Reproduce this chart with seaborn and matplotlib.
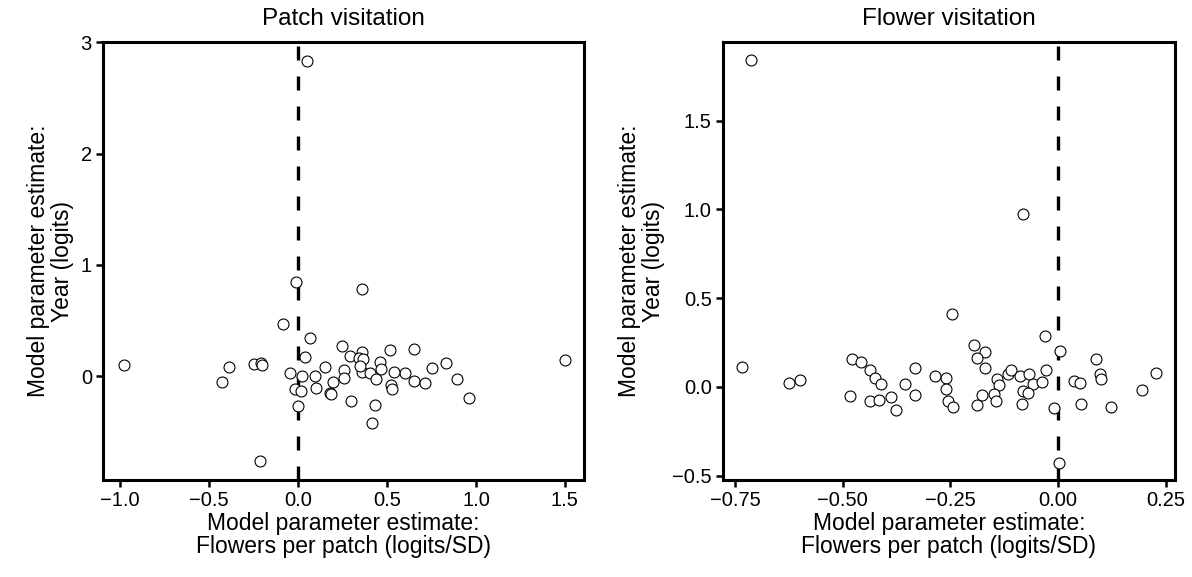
import matplotlib
matplotlib.use("Agg")
import matplotlib.pyplot as plt
import seaborn as sns
import pandas as pd

# Patch visitation: flowers-per-patch estimate vs year estimate
patch_x = [-0.978, -0.388, -0.427, -0.247, -0.210, -0.204, -0.082, 0.067, 0.042, -0.045,
           0.022, -0.015, 0.019, -0.002, -0.211, 0.098, 0.154, 0.103, 0.178, 0.197,
           0.051, -0.009, 0.362, 0.247, 0.290, 0.360, 0.343, 0.365, 0.459, 0.517,
           0.650, 0.834, 0.751, 0.600, 0.539, 0.465, 0.360, 0.257, 0.257, 0.188,
           0.403, 0.437, 0.525, 0.530, 0.650, 0.712, 0.892, 0.963, 0.300, 0.431,
           0.414, 1.498, 0.347]
patch_y = [0.104, 0.086, -0.048, 0.110, 0.119, 0.104, 0.468, 0.343, 0.170, 0.032,
           0.005, -0.116, -0.134, -0.263, -0.756, 0.000, 0.086, -0.105, -0.152, -0.048,
           2.834, 0.851, 0.782, 0.269, 0.185, 0.221, 0.161, 0.155, 0.131, 0.238,
           0.242, 0.122, 0.072, 0.030, 0.038, 0.065, 0.041, 0.059, -0.018, -0.158,
           0.030, -0.024, -0.078, -0.114, -0.039, -0.060, -0.027, -0.194, -0.224, -0.257,
           -0.418, 0.149, 0.090]

# Flower visitation
flower_x = [-0.733, -0.624, -0.599, -0.478, -0.458, -0.436, -0.425, -0.411, -0.482, -0.437,
            -0.416, -0.388, -0.376, -0.356, -0.333, -0.333, -0.286, -0.261, -0.259, -0.255,
            -0.247, -0.244, -0.189, -0.177, -0.196, -0.169, -0.189, -0.169, -0.142, -0.137,
            -0.149, -0.143, -0.116, -0.108, -0.089, -0.067, -0.059, -0.081, -0.070, -0.083,
            -0.037, -0.029, -0.031, 0.004, -0.009, 0.002, 0.037, 0.050, 0.053, 0.088,
            0.097, 0.099, 0.122, 0.196, 0.228, -0.712, -0.081]
flower_y = [0.113, 0.021, 0.040, 0.158, 0.141, 0.098, 0.049, 0.019, -0.051, -0.081,
            -0.075, -0.058, -0.130, 0.014, 0.106, -0.043, 0.061, 0.048, -0.011, -0.077,
            0.413, -0.111, -0.100, -0.047, 0.234, 0.198, 0.164, 0.106, 0.044, 0.013,
            -0.040, -0.081, 0.070, 0.093, 0.059, 0.070, 0.017, -0.024, -0.034, -0.094,
            0.027, 0.096, 0.285, 0.200, -0.121, -0.428, 0.036, 0.023, -0.096, 0.158,
            0.070, 0.045, -0.111, -0.015, 0.079, 1.840, 0.976]

titles = ["Patch visitation", "Flower visitation"]
xlabel = "Model parameter estimate:\nFlowers per patch (logits/SD)"
ylabel = "Model parameter estimate:\nYear (logits)"

sns.set_style("ticks")
plt.rcParams["font.family"] = ["Liberation Sans", "DejaVu Sans"]
plt.rcParams["text.color"] = "black"
plt.rcParams["axes.labelcolor"] = "black"
plt.rcParams["xtick.color"] = "black"
plt.rcParams["ytick.color"] = "black"

fig = plt.figure(figsize=(11.92, 5.77), dpi=100)
ax1 = fig.add_axes([0.0864, 0.168, 0.4035, 0.759])
ax2 = fig.add_axes([0.6065, 0.168, 0.379, 0.759])

panels = [(ax1, patch_x, patch_y), (ax2, flower_x, flower_y)]
for (ax, xs, ys), title in zip(panels, titles):
    df = pd.DataFrame({"x": xs, "y": ys})
    # dashed reference line at zero
    ax.axvline(0, color="black", lw=2.4, linestyle=(0, (4.2, 4.8)), zorder=1)
    sns.scatterplot(data=df, x="x", y="y", ax=ax, s=62, facecolor="white",
                    edgecolor="black", linewidth=0.8, zorder=3)
    ax.set_title(title, fontsize=17.5, pad=12)
    ax.set_xlabel(xlabel, fontsize=16.5, labelpad=1, linespacing=1.0)
    ax.set_ylabel(ylabel, fontsize=16.5, labelpad=5, linespacing=1.05)
    ax.tick_params(labelsize=14.5, width=1.8, length=5, pad=3, color="black")
    for sp in ax.spines.values():
        sp.set_linewidth(2.2)
        sp.set_color("black")

ax1.set_xticks([-1.0, -0.5, 0.0, 0.5, 1.0, 1.5])
ax1.set_yticks([0, 1, 2, 3])
ax1.set_xlim(-1.096, 1.607)
ax1.set_ylim(-0.93, 3.0)
ax2.set_xticks([-0.75, -0.50, -0.25, 0.00, 0.25])
ax2.set_yticks([-0.5, 0.0, 0.5, 1.0, 1.5])
ax2.set_xlim(-0.778, 0.271)
ax2.set_ylim(-0.525, 1.943)

fig.savefig("out.png", dpi=100)
